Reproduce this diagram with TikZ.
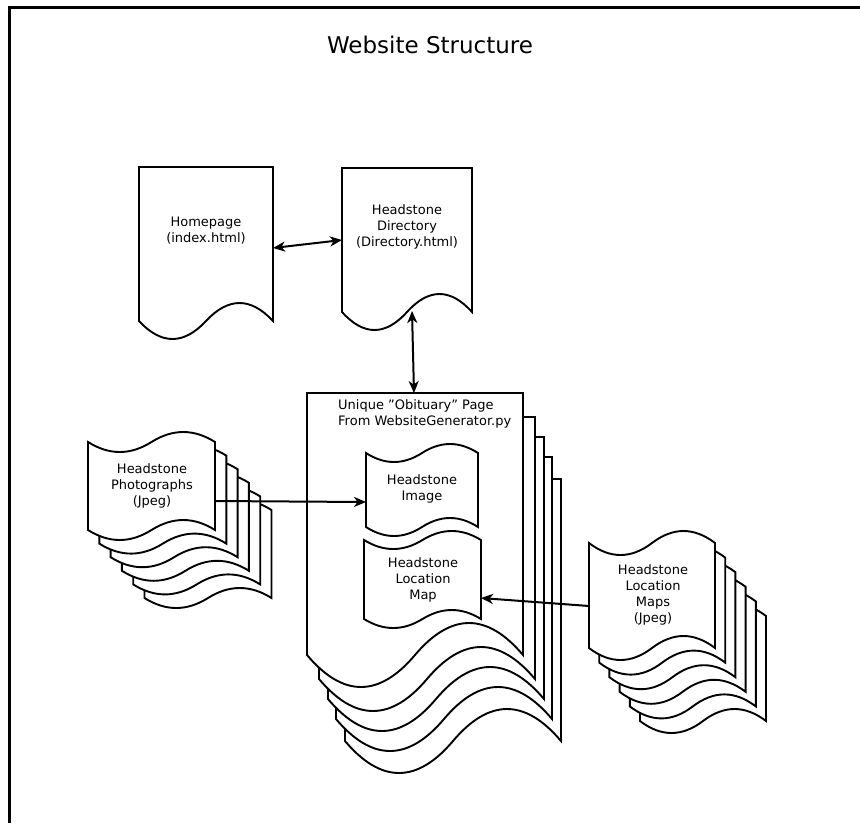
\documentclass[tikz,border=0pt]{standalone}
\usepackage{fontspec}
\setmainfont{DejaVu Sans}
\usetikzlibrary{arrows.meta}
\tikzset{
  shapeline/.style={draw=black, line width=1.9pt, fill=white, line join=miter},
  lbl/.style={font=\fontsize{13}{16}\selectfont, align=center, inner sep=0pt, text=black},
  conn/.style={line width=2pt, -{Stealth[length=12pt,width=10pt,inset=3.5pt]}},
  biconn/.style={line width=2pt, {Stealth[length=12pt,width=10pt,inset=3.5pt]}-{Stealth[length=12pt,width=10pt,inset=3.5pt]}},
  frameline/.style={line width=2.5pt, draw=black}
}
% document shape: x, y (top-left), width, side height, wave amplitude
\newcommand{\DocShape}[5]{%
  \pgfmathsetmacro\myX{#1}\pgfmathsetmacro\myY{#2}\pgfmathsetmacro\myW{#3}%
  \pgfmathsetmacro\myS{#4}\pgfmathsetmacro\myA{#5}%
  \draw[shapeline] (\myX,\myY) -- ({\myX+\myW},\myY) -- ({\myX+\myW},{\myY+\myS})
    .. controls ({\myX+0.8333*\myW},{\myY+\myS-1.3333*\myA}) and ({\myX+0.6667*\myW},{\myY+\myS-1.3333*\myA}) .. ({\myX+0.5*\myW},{\myY+\myS})
    .. controls ({\myX+0.3333*\myW},{\myY+\myS+1.3333*\myA}) and ({\myX+0.1667*\myW},{\myY+\myS+1.3333*\myA}) .. (\myX,{\myY+\myS}) -- cycle;
}
% tape shape: x, y (top side), width, height, wave amplitude
\newcommand{\TapeShape}[5]{%
  \pgfmathsetmacro\myX{#1}\pgfmathsetmacro\myY{#2}\pgfmathsetmacro\myW{#3}%
  \pgfmathsetmacro\myH{#4}\pgfmathsetmacro\myA{#5}%
  \draw[shapeline] (\myX,\myY)
    .. controls ({\myX+0.1667*\myW},{\myY+1.3333*\myA}) and ({\myX+0.3333*\myW},{\myY+1.3333*\myA}) .. ({\myX+0.5*\myW},\myY)
    .. controls ({\myX+0.6667*\myW},{\myY-1.3333*\myA}) and ({\myX+0.8333*\myW},{\myY-1.3333*\myA}) .. ({\myX+\myW},\myY)
    -- ({\myX+\myW},{\myY+\myH})
    .. controls ({\myX+0.8333*\myW},{\myY+\myH-1.3333*\myA}) and ({\myX+0.6667*\myW},{\myY+\myH-1.3333*\myA}) .. ({\myX+0.5*\myW},{\myY+\myH})
    .. controls ({\myX+0.3333*\myW},{\myY+\myH+1.3333*\myA}) and ({\myX+0.1667*\myW},{\myY+\myH+1.3333*\myA}) .. (\myX,{\myY+\myH}) -- cycle;
}
\begin{document}
\begin{tikzpicture}[x=1pt,y=-1pt]
\useasboundingbox (0,0) rectangle (860,823);
\fill[white] (0,0) rectangle (860,823);
% frame
\draw[frameline] (9.5,823) -- (9.5,7.7) -- (860,7.7);
% title
\node[font=\fontsize{23}{28}\selectfont, inner sep=0pt] (title) at (430,45) {Website Structure};

% Homepage
\DocShape{139}{167}{134}{154}{18}
\node[lbl] (home) at (206,231) {Homepage\\(index.html)};
% Directory
\DocShape{342}{168}{130}{144}{18}
\node[lbl] (dir) at (407,227) {Headstone\\Directory\\(Directory.html)};

% Obituary stack
\foreach \ox/\oy in {38/86, 29/64, 21/44, 12/24, 0/0} {
  \DocShape{307+\ox}{393+\oy}{216}{262}{32}
}
\node[lbl, align=left, anchor=west] (obit) at (338,413.5) {Unique "Obituary" Page\\From WebsiteGenerator.py};

% inner tapes
\TapeShape{366}{453}{112}{74}{9}
\node[lbl] (img) at (422,489) {Headstone\\Image};
\TapeShape{364}{540}{117}{79}{9}
\node[lbl] (map) at (423,579.5) {Headstone\\Location\\Map};

% Photographs stack
\foreach \k in {5,4,3,2,1,0} {
  \TapeShape{88+11.3*\k}{442+13.6*\k}{127}{88}{10}
}
\node[lbl] (photos) at (152,486) {Headstone\\Photographs\\(Jpeg)};

% Location maps stack
\foreach \k in {5,4,3,2,1,0} {
  \TapeShape{589+10.2*\k}{543+14.6*\k}{126}{105}{12}
}
\node[lbl] (maps) at (653,594.5) {Headstone\\Location\\Maps\\(Jpeg)};

% connector end points
\coordinate (homeR) at (273,248);
\coordinate (dirL) at (342,240);
\coordinate (dirB) at (412,311);
\coordinate (obitT) at (414,393);
\coordinate (photosR) at (215,501);
\coordinate (imgL) at (366,502);
\coordinate (mapsL) at (589,606);
\coordinate (mapR) at (481,598);

\draw[biconn] (homeR) -- (dirL);
\draw[biconn] (dirB) -- (obitT);
\draw[conn] (photosR) -- (imgL);
\draw[conn] (mapsL) -- (mapR);
\end{tikzpicture}
\end{document}
